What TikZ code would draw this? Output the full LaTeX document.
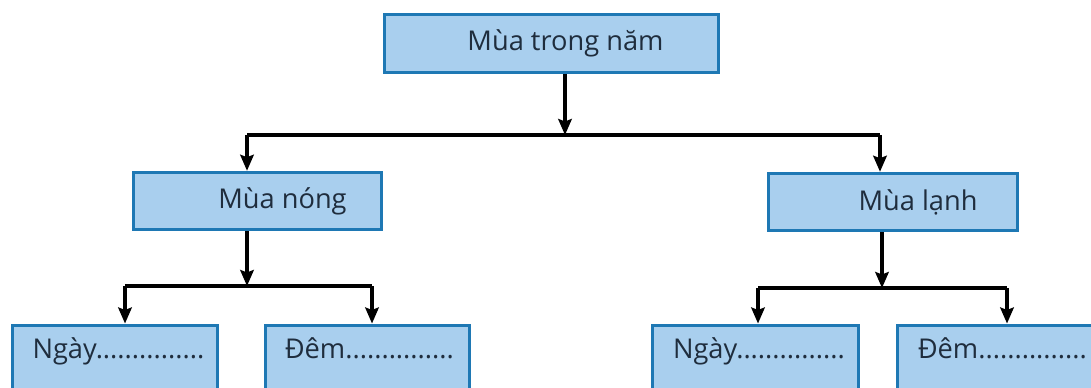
\documentclass[tikz,border=0pt]{standalone}
\usepackage{fontspec}
\setmainfont{Open Sans}
\usepackage{xcolor}
\usepackage{tikz}
\usetikzlibrary{arrows.meta,positioning}

\definecolor{boxfill}{HTML}{A9CFEE}
\definecolor{boxline}{HTML}{1E78B4}
\definecolor{ink}{HTML}{1F2D3D}

\begin{document}
\begin{tikzpicture}[x=0.02cm, y=-0.02cm,
	box/.style={rectangle, draw=boxline, fill=boxfill, line width=0.06cm, text=ink, font=\fontsize{15.5}{18}\selectfont, minimum height=1.15cm, inner sep=0pt},
	leaf/.style={box, minimum height=1.6cm, text width=3.3cm, text height=0.3cm, text depth=0.58cm, align=left},
	arr/.style={line width=0.065cm, -{Stealth[length=0.32cm,width=0.27cm,inset=0.05cm]}}]
	\useasboundingbox (0,0) rectangle (1091,387);
	\clip (0,0) rectangle (1091,387);
	\fill[white] (0,0) rectangle (1091,387);

	\node[box, minimum width=6.7cm] (Nam) at (551.5,43.5) {\hspace*{0.56cm}Mùa trong năm};
	\node[box, minimum width=4.98cm] (Nong) at (257.5,201) {\hspace*{1cm}Mùa nóng};
	\node[box, minimum width=5cm] (Lanh) at (893,202) {\hspace*{1cm}Mùa lạnh};

	\node[leaf, minimum width=4.12cm] (NgayNong) at (115,365) {Ngày...............};
	\node[leaf, minimum width=4.1cm] (DemNong) at (367.5,365) {Đêm...............};
	\node[leaf, minimum width=4.14cm] (NgayLanh) at (755.5,365) {Ngày...............};
	\node[leaf, minimum width=4.14cm] (DemLanh) at (1000.5,365) {Đêm...............};

	\coordinate (j0) at (565,135);
	\coordinate (j0L) at (247,135);
	\coordinate (j0R) at (880,135);
	\coordinate (j1) at (247,286);
	\coordinate (j1L) at (125,286);
	\coordinate (j1R) at (372,286);
	\coordinate (j2) at (882,288);
	\coordinate (j2L) at (758,288);
	\coordinate (j2R) at (1007,288);

	\draw[arr] (Nam.south -| j0) -- (j0);
	\draw[line width=0.065cm] (j0L) -- (j0R);
	\draw[arr] (j0L) -- (j0L |- Nong.north);
	\draw[arr] (j0R) -- (j0R |- Lanh.north);

	\draw[arr] (Nong.south -| j1) -- (j1);
	\draw[line width=0.065cm] (j1L) -- (j1R);
	\draw[arr] (j1L) -- (j1L |- NgayNong.north);
	\draw[arr] (j1R) -- (j1R |- DemNong.north);

	\draw[arr] (Lanh.south -| j2) -- (j2);
	\draw[line width=0.065cm] (j2L) -- (j2R);
	\draw[arr] (j2L) -- (j2L |- NgayLanh.north);
	\draw[arr] (j2R) -- (j2R |- DemLanh.north);
\end{tikzpicture}
\end{document}
